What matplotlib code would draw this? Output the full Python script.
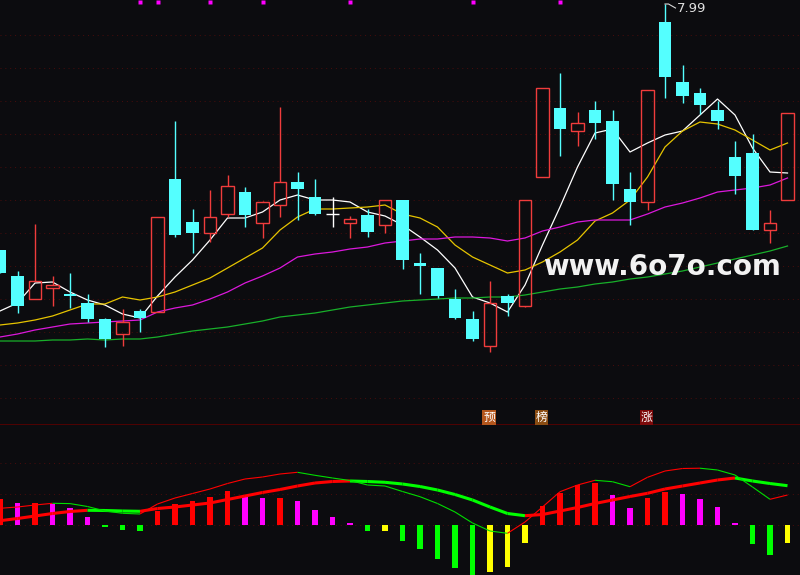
import numpy as np
import matplotlib
matplotlib.use('Agg')
import matplotlib.pyplot as plt
from matplotlib.patches import Rectangle
from matplotlib.collections import LineCollection

bg = '#0c0c0f'
red = '#f03c3c'
cyan = '#54ffff'

# daily candles
opens = [5.53, 5.27, 5.04, 5.15, 5.09, 5.00, 4.84, 4.69, 4.92, 4.91,
         6.24, 5.81, 5.70, 5.89, 6.11, 5.80, 5.98, 6.21, 6.06, 5.89,
         5.80, 5.88, 5.78, 6.03, 5.40, 5.35, 5.04, 4.84, 4.57, 5.07,
         4.97, 6.26, 6.95, 6.72, 6.93, 6.82, 6.14, 6.01, 7.81, 7.21,
         7.10, 6.93, 6.46, 6.50, 5.73, 6.03]
closes = [5.30, 4.97, 5.22, 5.18, 5.07, 4.84, 4.64, 4.81, 4.85, 5.86,
          5.68, 5.70, 5.86, 6.17, 5.88, 6.01, 6.21, 6.14, 5.89, 5.89,
          5.84, 5.71, 6.03, 5.43, 5.37, 5.07, 4.85, 4.64, 5.00, 5.00,
          6.03, 7.15, 6.74, 6.80, 6.80, 6.19, 6.01, 7.13, 7.26, 7.07,
          6.98, 6.82, 6.27, 5.73, 5.80, 6.90]
highs = [5.53, 5.32, 5.79, 5.27, 5.30, 5.09, 4.85, 4.94, 4.94, 5.86,
         6.82, 5.94, 6.13, 6.28, 6.16, 6.02, 6.96, 6.31, 6.24, 6.06,
         5.87, 5.94, 6.03, 6.03, 5.50, 5.35, 5.14, 4.92, 5.22, 5.09,
         6.03, 7.15, 7.30, 6.91, 7.02, 6.93, 6.31, 7.13, 7.99, 7.38,
         7.15, 7.02, 6.62, 6.69, 5.93, 6.90]
lows = [5.30, 4.90, 5.04, 4.97, 4.95, 4.81, 4.56, 4.57, 4.71, 4.91,
        5.66, 5.50, 5.61, 5.86, 5.76, 5.65, 5.86, 5.83, 5.88, 5.76,
        5.65, 5.66, 5.70, 5.34, 5.09, 5.05, 4.84, 4.62, 4.51, 4.87,
        4.96, 6.26, 6.47, 6.57, 6.64, 6.03, 5.78, 5.93, 7.05, 7.00,
        6.89, 6.74, 6.09, 5.73, 5.60, 6.03]

# moving averages
ma5 = [4.92, 5.00, 5.20, 5.21, 5.11, 5.03, 4.98, 4.89, 4.85, 5.07,
       5.26, 5.43, 5.63, 5.85, 5.85, 5.91, 6.03, 6.08, 6.03, 6.03,
       6.01, 5.91, 5.87, 5.78, 5.66, 5.53, 5.35, 5.06, 5.00, 4.91,
       5.18, 5.58, 5.96, 6.36, 6.70, 6.74, 6.51, 6.60, 6.68, 6.72,
       6.88, 7.04, 6.88, 6.55, 6.31, 6.30]
ma10 = [4.78, 4.80, 4.83, 4.87, 4.93, 4.99, 4.99, 5.06, 5.03, 5.06,
        5.11, 5.18, 5.25, 5.35, 5.45, 5.55, 5.73, 5.86, 5.94, 5.94,
        5.95, 5.96, 5.98, 5.89, 5.85, 5.76, 5.58, 5.46, 5.38, 5.30,
        5.33, 5.41, 5.51, 5.63, 5.82, 5.90, 6.03, 6.26, 6.56, 6.72,
        6.81, 6.79, 6.73, 6.63, 6.53, 6.60]
ma20 = [4.66, 4.69, 4.73, 4.76, 4.79, 4.80, 4.81, 4.82, 4.83, 4.91,
        4.95, 4.98, 5.04, 5.11, 5.20, 5.27, 5.35, 5.46, 5.49, 5.51,
        5.54, 5.56, 5.60, 5.62, 5.64, 5.64, 5.66, 5.66, 5.65, 5.62,
        5.65, 5.72, 5.76, 5.81, 5.83, 5.83, 5.83, 5.89, 5.96, 6.00,
        6.05, 6.11, 6.13, 6.15, 6.18, 6.25]
ma60 = [4.62, 4.62, 4.62, 4.63, 4.63, 4.64, 4.63, 4.64, 4.64, 4.66,
        4.69, 4.72, 4.74, 4.76, 4.79, 4.82, 4.86, 4.88, 4.90, 4.93,
        4.96, 4.98, 5.00, 5.02, 5.03, 5.04, 5.05, 5.05, 5.06, 5.06,
        5.08, 5.11, 5.14, 5.16, 5.19, 5.21, 5.24, 5.26, 5.29, 5.32,
        5.36, 5.40, 5.44, 5.48, 5.52, 5.57]

# lower indicator
hist = [0.255, 0.215, 0.220, 0.208, 0.168, 0.075, -0.025, -0.055, -0.065, 0.135,
        0.205, 0.235, 0.275, 0.335, 0.285, 0.265, 0.270, 0.235, 0.145, 0.075,
        0.015, -0.065, -0.062, -0.162, -0.245, -0.345, -0.432, -0.53, -0.475, -0.422,
        -0.182, 0.185, 0.315, 0.395, 0.415, 0.295, 0.165, 0.265, 0.325, 0.305,
        0.255, 0.175, 0.015, -0.192, -0.302, -0.182]
dif = [0.162, 0.175, 0.195, 0.212, 0.209, 0.180, 0.135, 0.112, 0.105, 0.205,
       0.265, 0.310, 0.355, 0.410, 0.455, 0.475, 0.505, 0.522, 0.492, 0.465,
       0.440, 0.395, 0.385, 0.330, 0.278, 0.210, 0.125, 0.015, -0.065, -0.088,
       0.025, 0.175, 0.328, 0.395, 0.442, 0.428, 0.378, 0.472, 0.535, 0.560,
       0.563, 0.545, 0.495, 0.375, 0.252, 0.295]
dea = [0.038, 0.060, 0.085, 0.110, 0.130, 0.142, 0.140, 0.135, 0.132, 0.160,
       0.175, 0.195, 0.215, 0.250, 0.285, 0.320, 0.350, 0.385, 0.415, 0.430,
       0.435, 0.430, 0.422, 0.405, 0.380, 0.345, 0.300, 0.245, 0.175, 0.110,
       0.088, 0.100, 0.135, 0.170, 0.210, 0.245, 0.280, 0.312, 0.355, 0.385,
       0.415, 0.445, 0.465, 0.435, 0.410, 0.388]

mark_idx = [8, 9, 12, 15, 20, 27, 32]
signal_idx = [28, 31, 37]
signal_text = ['预', '榜', '涨']
signal_bg = ['#b4561c', '#8a4c12', '#7c0a0a']

n = len(opens)
x = np.arange(n)

fig = plt.figure(figsize=(8, 5.75), dpi=100, facecolor=bg)
ax = fig.add_axes([0, 150 / 575, 1, 425 / 575], facecolor=bg)
ax2 = fig.add_axes([0, 0, 1, 150 / 575], facecolor=bg)

for a in (ax, ax2):
    a.set_xlim(0, 800 / 17.5)
    a.set_xticks([])
    a.set_yticks([])
    for s in a.spines.values():
        s.set_visible(False)

ax.set_ylim(3.78, 8.03)
ax.spines['bottom'].set_visible(True)
ax.spines['bottom'].set_color('#5c0000')
ax.spines['bottom'].set_linewidth(1.2)

grid_col = '#4a0c0c'
for g in 8.03 - (0.35 + 0.33 * np.arange(12)):
    ax.axhline(g, color=grid_col, lw=0.7, ls=(0, (1, 4)), zorder=0)

ax.plot(x, ma5, color='white', lw=0.9, zorder=2)
ax.plot(x, ma10, color='#e6c400', lw=0.9, zorder=2)
ax.plot(x, ma20, color='#dc18dc', lw=0.9, zorder=2)
ax.plot(x, ma60, color='#18b02a', lw=0.9, zorder=2)

w = 0.74
for i in x:
    o, c, h, l = opens[i], closes[i], highs[i], lows[i]
    if c > o:
        ax.add_patch(Rectangle((i - w / 2, o), w, c - o, facecolor='none',
                               edgecolor=red, lw=1.0, zorder=3))
        ax.vlines(i, c, h, color=red, lw=1.0, zorder=3)
        ax.vlines(i, l, o, color=red, lw=1.0, zorder=3)
    elif c < o:
        ax.vlines(i, l, h, color=cyan, lw=1.0, zorder=3)
        ax.add_patch(Rectangle((i - w / 2, c), w, o - c, facecolor=cyan,
                               edgecolor='none', zorder=4))
    else:
        ax.vlines(i, l, h, color='white', lw=1.0, zorder=3)
        ax.hlines(o, i - w / 2, i + w / 2, color='white', lw=1.0, zorder=3)

# high marker
top = int(np.argmax(highs))
ax.plot([top, top + 0.2, top + 0.6], [highs[top], highs[top], highs[top] - 0.04],
        color='#d8d8d8', lw=0.8, zorder=5)
ax.text(top + 0.68, highs[top] - 0.05, f'{highs[top]:.2f}', color='#e0e0e0',
        fontsize=9.5, ha='left', va='center', zorder=5)

ax.plot(mark_idx, [8.005] * len(mark_idx), 's', color='#ff00ff', ms=2.4,
        mec='none', zorder=5)

for i, t, c in zip(signal_idx, signal_text, signal_bg):
    ax.text(i - 0.05, 3.855, t, color='white', fontsize=8.5, ha='center', va='center',
            family=['Noto Sans CJK SC', 'DejaVu Sans'], zorder=6,
            bbox=dict(boxstyle='square,pad=0.08', facecolor=c, edgecolor='none'))

fig.text(661.5 / 800, 1 - 267 / 575, 'www.6o7o.com', color='#f2f2f2', fontsize=20,
         fontweight='bold', ha='center', va='center', zorder=10)

# lower panel
ax2.set_ylim(-0.505, 0.995)
for g in [0.0, 0.305, 0.615]:
    ax2.axhline(g, color=grid_col, lw=0.7, ls=(0, (1, 4)), zorder=0)

bar_cols = []
for i, v in enumerate(hist):
    prev = hist[i - 1] if i > 0 else v
    if v >= 0:
        bar_cols.append('#ff0000' if v >= prev else '#ff00ff')
    else:
        bar_cols.append('#00ff00' if v <= prev else '#ffff00')
ax2.bar(x, hist, width=0.29, color=bar_cols, zorder=2)


def colored_line(a, vals, lw, up, down):
    pts = np.column_stack([x, vals])
    segs = np.stack([pts[:-1], pts[1:]], axis=1)
    cols = [up if b >= p else down for p, b in zip(vals[:-1], vals[1:])]
    a.add_collection(LineCollection(segs, colors=cols, linewidths=lw, zorder=3))


colored_line(ax2, dea, 2.2, '#ff0000', '#00ff00')
colored_line(ax2, dif, 0.8, '#ff0000', '#00dd00')

fig.savefig('out.png', dpi=100, facecolor=bg)
